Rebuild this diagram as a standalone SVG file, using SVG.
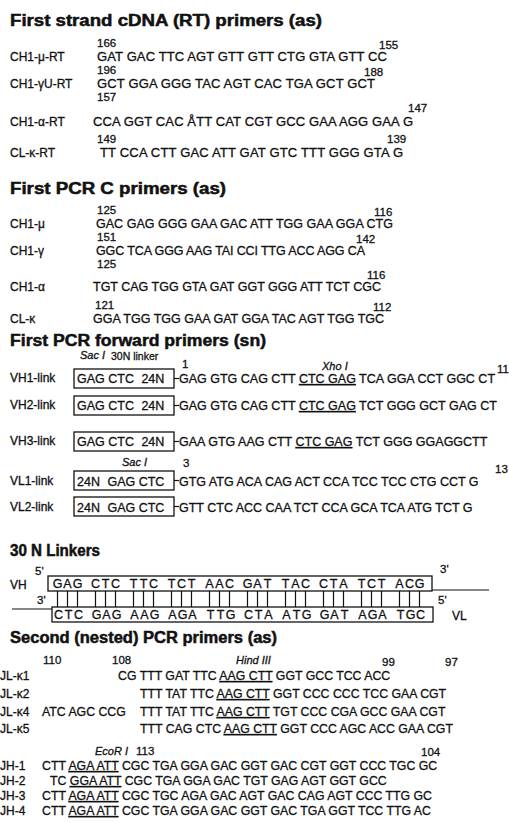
<svg xmlns="http://www.w3.org/2000/svg" width="509" height="823" viewBox="0 0 509 823">
<style>
text{font-family:"Liberation Sans",Arial,Helvetica,sans-serif;fill:#111;stroke:#111;stroke-width:0.3}
.h{font-weight:bold;font-size:16px;stroke-width:0.5}
.a{font-size:13px}
.b{font-size:12.5px}
.d{font-size:12.3px}
.n{font-size:11.5px}
.lb{font-size:12px}
.it{font-style:italic;font-size:11px}
.sm{font-size:10.5px}
.u{text-decoration:underline}
.bx{fill:none;stroke:#111;stroke-width:1.3}
.ln{stroke:#111;stroke-width:1.2;fill:none}
</style>
<rect width="509" height="823" fill="#fff"/>

<g id="sec-rt">
<text class="h" x="10" y="26" textLength="312" lengthAdjust="spacingAndGlyphs">First strand cDNA (RT) primers (as)</text>
<g id="rt-mu">
<text class="lb" x="10" y="61">CH1-μ-RT</text>
<text class="n" x="97" y="47">166</text>
<text class="a" x="97" y="61" textLength="290">GAT GAC TTC AGT GTT GTT CTG GTA GTT CC</text>
<text class="n" x="379" y="49">155</text>
</g>
<g id="rt-gamma">
<text class="lb" x="10" y="88">CH1-γU-RT</text>
<text class="n" x="97" y="74">196</text>
<text class="a" x="97" y="88" textLength="278">GCT GGA GGG TAC AGT CAC TGA GCT GCT</text>
<text class="n" x="364" y="76">188</text>
</g>
<g id="rt-alpha">
<text class="lb" x="10" y="126">CH1-α-RT</text>
<text class="n" x="97" y="101">157</text>
<text class="n" x="408" y="112">147</text>
<text class="a" x="93" y="126" textLength="320">CCA GGT CAC ÅTT CAT CGT GCC GAA AGG GAA G</text>
</g>
<g id="rt-kappa">
<text class="lb" x="10" y="157">CL-κ-RT</text>
<text class="n" x="97" y="143">149</text>
<text class="a" x="100" y="157" textLength="303">TT CCA CTT GAC ATT GAT GTC TTT GGG GTA G</text>
<text class="n" x="387" y="143">139</text>
</g>
</g>

<g id="sec-c">
<text class="h" x="10" y="194" textLength="216" lengthAdjust="spacingAndGlyphs">First PCR C primers (as)</text>
<g id="c-mu">
<text class="lb" x="10" y="228">CH1-μ</text>
<text class="n" x="97" y="214">125</text>
<text class="b" x="96" y="228" textLength="297">GAC GAG GGG GAA GAC ATT TGG GAA GGA CTG</text>
<text class="n" x="374" y="216">116</text>
</g>
<g id="c-gamma">
<text class="lb" x="10" y="255">CH1-γ</text>
<text class="n" x="97" y="241">151</text>
<text class="b" x="96" y="255" textLength="269">GGC TCA GGG AAG TAI CCI TTG ACC AGG CA</text>
<text class="n" x="356" y="243">142</text>
</g>
<g id="c-alpha">
<text class="lb" x="10" y="291">CH1-α</text>
<text class="n" x="97" y="268">125</text>
<text class="b" x="93" y="291">TGT CAG TGG GTA GAT GGT GGG ATT TCT CGC</text>
<text class="n" x="367" y="279">116</text>
</g>
<g id="c-kappa">
<text class="lb" x="10" y="323">CL-κ</text>
<text class="n" x="95" y="309">121</text>
<text class="b" x="93" y="323">GGA TGG TGG GAA GAT GGA TAC AGT TGG TGC</text>
<text class="n" x="373" y="311">112</text>
</g>
</g>

<g id="sec-fwd">
<text class="h" x="10" y="346" textLength="256" lengthAdjust="spacingAndGlyphs">First PCR forward primers (sn)</text>
<text class="it" x="80" y="359">Sac I</text>
<text class="sm" x="111" y="360">30N linker</text>
<text class="n" x="182" y="368">1</text>
<text class="it" x="322" y="370">Xho I</text>
<text class="n" x="497" y="373">11</text>
<g id="vh1">
<text class="lb" x="10" y="382">VH1-link</text>
<rect class="bx" x="74" y="369" width="100" height="19"/>
<text class="b" x="77" y="383">GAG CTC <tspan dx="4">24N</tspan></text>
<line class="ln" x1="174" y1="378.5" x2="179" y2="378.5"/>
<text class="b" x="179" y="383">GAG GTG CAG CTT <tspan class="u">CTC GAG</tspan> TCA GGA CCT GGC CT</text>
</g>
<g id="vh2">
<text class="lb" x="10" y="409">VH2-link</text>
<rect class="bx" x="74" y="396" width="100" height="19"/>
<text class="b" x="77" y="410">GAG CTC <tspan dx="4">24N</tspan></text>
<line class="ln" x1="174" y1="405.5" x2="179" y2="405.5"/>
<text class="b" x="179" y="410">GAG GTG CAG CTT <tspan class="u">CTC GAG</tspan> TCT GGG GCT GAG CT</text>
</g>
<g id="vh3">
<text class="lb" x="10" y="445">VH3-link</text>
<rect class="bx" x="74" y="432" width="100" height="19"/>
<text class="b" x="77" y="446">GAG CTC <tspan dx="4">24N</tspan></text>
<line class="ln" x1="174" y1="441.5" x2="179" y2="441.5"/>
<text class="b" x="179" y="446">GAA GTG AAG CTT <tspan class="u">CTC GAG</tspan> TCT GGG GGAGGCTT</text>
</g>
<text class="it" x="122" y="466">Sac I</text>
<text class="n" x="183" y="467">3</text>
<text class="n" x="495" y="473">13</text>
<g id="vl1">
<text class="lb" x="10" y="485">VL1-link</text>
<rect class="bx" x="74" y="471" width="100" height="19"/>
<text class="b" x="77" y="486">24N <tspan dx="4">GAG CTC</tspan></text>
<line class="ln" x1="174" y1="480.5" x2="179" y2="480.5"/>
<text class="b" x="179" y="486">GTG ATG ACA CAG ACT CCA TCC TCC CTG CCT G</text>
</g>
<g id="vl2">
<text class="lb" x="10" y="511">VL2-link</text>
<rect class="bx" x="74" y="497" width="100" height="19"/>
<text class="b" x="77" y="512">24N <tspan dx="4">GAG CTC</tspan></text>
<line class="ln" x1="174" y1="506.5" x2="179" y2="506.5"/>
<text class="b" x="179" y="512">GTT CTC ACC CAA TCT CCA GCA TCA ATG TCT G</text>
</g>
</g>

<g id="sec-linker">
<text class="h" x="10" y="556" textLength="90" lengthAdjust="spacingAndGlyphs">30 N Linkers</text>
<text class="lb" x="10" y="589">VH</text>
<text class="n" x="35" y="575">5'</text>
<text class="n" x="440" y="573">3'</text>
<text class="n" x="37" y="604">3'</text>
<text class="n" x="438" y="604">5'</text>
<text class="lb" x="452" y="620">VL</text>
<rect class="bx" x="48" y="576" width="384" height="15"/>
<rect class="bx" x="52" y="607" width="381" height="15"/>
<g id="connectors">
<line class="ln" x1="432" y1="590" x2="489" y2="590"/>
<line class="ln" x1="12" y1="609" x2="52" y2="609"/>
<path class="ln" d="M57.5 591V607M67.5 591V607M77.5 591V607M95.5 591V607M105.5 591V607M115.5 591V607M133.5 591V607M143.5 591V607M153.5 591V607M171.5 591V607M181.5 591V607M191.5 591V607M209.5 591V607M219.5 591V607M229.5 591V607M247.5 591V607M257.5 591V607M267.5 591V607M285.5 591V607M295.5 591V607M305.5 591V607M323.5 591V607M333.5 591V607M343.5 591V607M361.5 591V607M371.5 591V607M381.5 591V607M399.5 591V607M409.5 591V607M419.5 591V607"/>
</g>
<text class="b" text-anchor="middle" y="588" x="57.5 67.5 77.5 86 95.5 105.5 115.5 124 133.5 143.5 153.5 162 171.5 181.5 191.5 200 209.5 219.5 229.5 238 247.5 257.5 267.5 276 285.5 295.5 305.5 314 323.5 333.5 343.5 352 361.5 371.5 381.5 390 399.5 409.5 419.5">GAG CTC TTC TCT AAC GAT TAC CTA TCT ACG</text>
<text class="b" text-anchor="middle" y="619" x="58.5 68.5 78.5 87 96.5 106.5 116.5 125 134.5 144.5 154.5 163 172.5 182.5 192.5 201 210.5 220.5 230.5 239 248.5 258.5 268.5 277 286.5 296.5 306.5 315 324.5 334.5 344.5 353 362.5 372.5 382.5 391 400.5 410.5 420.5">CTC GAG AAG AGA TTG CTA ATG GAT AGA TGC</text>
</g>

<g id="sec-nested">
<text class="h" x="10" y="643" textLength="267" lengthAdjust="spacingAndGlyphs">Second (nested) PCR primers (as)</text>
<text class="n" x="43" y="664">110</text>
<text class="n" x="112" y="664">108</text>
<text class="it" x="236" y="664">Hind III</text>
<text class="n" x="382" y="666">99</text>
<text class="n" x="445" y="666">97</text>
<g id="jl1">
<text class="lb" x="0" y="680">JL-κ1</text>
<text class="d" x="118" y="680">CG TTT GAT TTC <tspan class="u">AAG CTT</tspan> GGT GCC TCC ACC</text>
</g>
<g id="jl2">
<text class="lb" x="0" y="698">JL-κ2</text>
<text class="d" x="140" y="698">TTT TAT TTC <tspan class="u">AAG CTT</tspan> GGT CCC CCC TCC GAA CGT</text>
</g>
<g id="jl4">
<text class="lb" x="0" y="716">JL-κ4</text>
<text class="d" x="42" y="716">ATC AGC CCG <tspan x="140">TTT TAT TTC </tspan><tspan class="u">AAG CTT</tspan> TGT CCC CGA GCC GAA CGT</text>
</g>
<g id="jl5">
<text class="lb" x="0" y="733">JL-κ5</text>
<text class="d" x="140" y="733">TTT CAG CTC <tspan class="u">AAG CTT</tspan> GGT CCC AGC ACC GAA CGT</text>
</g>
<text class="it" x="95" y="755">EcoR I</text>
<text class="n" x="136" y="755">113</text>
<text class="n" x="421" y="756">104</text>
<g id="jh1">
<text class="lb" x="0" y="770">JH-1</text>
<text class="d" x="42" y="770">CTT <tspan class="u">AGA ATT</tspan> CGC TGA GGA GAC GGT GAC CGT GGT CCC TGC GC</text>
</g>
<g id="jh2">
<text class="lb" x="0" y="785">JH-2</text>
<text class="d" x="50" y="785">TC <tspan class="u">GGA ATT</tspan> CGC TGA GGA GAC TGT GAG AGT GGT GCC</text>
</g>
<g id="jh3">
<text class="lb" x="0" y="800">JH-3</text>
<text class="d" x="42" y="800">CTT <tspan class="u">AGA ATT</tspan> CGC TGC AGA GAC AGT GAC CAG AGT CCC TTG GC</text>
</g>
<g id="jh4">
<text class="lb" x="0" y="815">JH-4</text>
<text class="d" x="42" y="815">CTT <tspan class="u">AGA ATT</tspan> CGC TGA GGA GAC GGT GAC TGA GGT TCC TTG AC</text>
</g>
</g>
</svg>
